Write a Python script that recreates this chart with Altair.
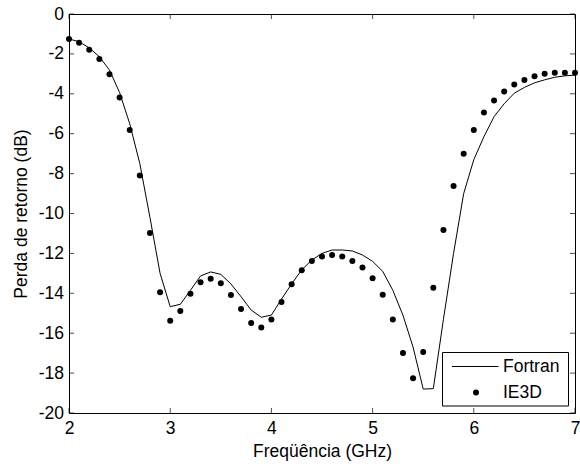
import altair as alt
import pandas as pd

# ---- data ----
freq = [2.0, 2.1, 2.2, 2.3, 2.4, 2.5, 2.6, 2.7, 2.8, 2.9,
        3.0, 3.1, 3.2, 3.3, 3.4, 3.5, 3.6, 3.7, 3.8, 3.9,
        4.0, 4.1, 4.2, 4.3, 4.4, 4.5, 4.6, 4.7, 4.8, 4.9,
        5.0, 5.1, 5.2, 5.3, 5.4, 5.5, 5.6, 5.7, 5.8, 5.9,
        6.0, 6.1, 6.2, 6.3, 6.4, 6.5, 6.6, 6.7, 6.8, 6.9, 7.0]

fortran = [-1.25, -1.39, -1.70, -2.14, -2.81, -3.94, -5.50, -7.50, -10.20, -13.00,
           -14.67, -14.55, -13.85, -13.13, -12.93, -13.05, -13.53, -14.17, -14.84, -15.20,
           -15.09, -14.29, -13.53, -12.82, -12.33, -12.00, -11.83, -11.83, -11.88, -12.08,
           -12.40, -12.90, -13.85, -15.10, -16.70, -18.80, -18.78, -15.30, -12.00, -9.00,
           -7.30, -6.15, -5.15, -4.50, -3.97, -3.68, -3.45, -3.30, -3.17, -3.10, -3.06]

ie3d = [-1.25, -1.44, -1.79, -2.26, -3.02, -4.18, -5.81, -8.10, -10.98, -13.95,
        -15.37, -14.89, -14.02, -13.45, -13.27, -13.50, -14.08, -14.79, -15.49, -15.72,
        -15.31, -14.44, -13.55, -12.85, -12.38, -12.15, -12.08, -12.15, -12.38, -12.71,
        -13.25, -14.07, -15.31, -16.99, -18.26, -16.94, -13.72, -10.83, -8.62, -7.00,
        -5.81, -4.94, -4.34, -3.89, -3.54, -3.31, -3.12, -2.99, -2.94, -2.94, -2.94]

x_ticks = [2, 3, 4, 5, 6, 7]
y_ticks = [-20, -18, -16, -14, -12, -10, -8, -6, -4, -2, 0]
legend_labels = ["Fortran", "IE3D"]
x_title = "Freqüência (GHz)"
y_title = "Perda de retorno (dB)"

# ---- layout ----
W, H = 506, 399
FONT = "Liberation Sans"
FS = 17.5

df = pd.DataFrame({"freq": freq, "fortran": fortran, "ie3d": ie3d})
xt = pd.DataFrame({"t": x_ticks})
yt = pd.DataFrame({"t": y_ticks})
one = pd.DataFrame({"a": [0]})

xscale = alt.Scale(domain=[2, 7], nice=False, zero=False)
yscale = alt.Scale(domain=[-20, 0], nice=False, zero=False)

xaxis = alt.Axis(values=x_ticks, title=x_title, ticks=False, tickSize=0,
                 labelPadding=6, domain=False, grid=False, labelFlush=False,
                 labelOverlap=False, labelExpr="'' + datum.value",
                 titleBaseline="alphabetic", titleY=43)
yaxis = alt.Axis(values=y_ticks, title=y_title, ticks=False, tickSize=0,
                 labelPadding=5.5, domain=False, grid=False, labelFlush=False,
                 labelOverlap=False, labelExpr="'' + datum.value",
                 titleBaseline="alphabetic", titleX=-43, titleY=H / 2,
                 titleAngle=270, titleAlign="center")

line = alt.Chart(df).mark_line(color="black", strokeWidth=1).encode(
    x=alt.X("freq:Q", scale=xscale, axis=xaxis),
    y=alt.Y("fortran:Q", scale=yscale, axis=yaxis),
)

pts = alt.Chart(df).mark_circle(color="black", size=36, opacity=1).encode(
    x=alt.X("freq:Q", scale=xscale, axis=xaxis),
    y=alt.Y("ie3d:Q", scale=yscale, axis=yaxis),
)

tick_style = dict(color="black", thickness=1, size=5)
xt_bottom = alt.Chart(xt).mark_tick(**tick_style).encode(
    x=alt.X("t:Q", scale=xscale, axis=xaxis), y=alt.value(H - 2.5))
xt_top = alt.Chart(xt).mark_tick(**tick_style).encode(
    x=alt.X("t:Q", scale=xscale, axis=xaxis), y=alt.value(2.5))
yt_left = alt.Chart(yt).mark_tick(**tick_style).encode(
    y=alt.Y("t:Q", scale=yscale, axis=yaxis), x=alt.value(2.5))
yt_right = alt.Chart(yt).mark_tick(**tick_style).encode(
    y=alt.Y("t:Q", scale=yscale, axis=yaxis), x=alt.value(W - 2.5))

# ---- legend ----
leg_box = alt.Chart(one).mark_rect(fill="white", stroke="black", strokeWidth=1).encode(
    x=alt.value(373.5), x2=alt.value(499.5), y=alt.value(338.5), y2=alt.value(392))
leg_line = alt.Chart(one).mark_rule(color="black", strokeWidth=1).encode(
    x=alt.value(383), x2=alt.value(429.5), y=alt.value(352.5))
leg_dot = alt.Chart(one).mark_circle(color="black", size=36, opacity=1).encode(
    x=alt.value(407), y=alt.value(378.5))
leg_t1 = alt.Chart(one).mark_text(text=legend_labels[0], align="left", baseline="middle",
                                  font=FONT, fontSize=FS, color="black").encode(
    x=alt.value(434), y=alt.value(352.5))
leg_t2 = alt.Chart(one).mark_text(text=legend_labels[1], align="left", baseline="middle",
                                  font=FONT, fontSize=FS, color="black").encode(
    x=alt.value(434), y=alt.value(378.5))

chart = alt.layer(
    line, pts, xt_bottom, xt_top, yt_left, yt_right,
    leg_box, leg_line, leg_dot, leg_t1, leg_t2,
).properties(
    width=W, height=H,
    padding={"left": 69, "top": 14, "right": 5, "bottom": 51},
    autosize=alt.AutoSizeParams(type="none"),
).configure(
    background="white",
).configure_view(
    stroke="black", strokeWidth=1,
).configure_axis(
    labelFont=FONT, labelFontSize=FS, labelColor="black",
    titleFont=FONT, titleFontSize=FS, titleColor="black", titleFontWeight="normal",
)

chart.save("out.html", embed_options={"renderer": "svg", "actions": False})
